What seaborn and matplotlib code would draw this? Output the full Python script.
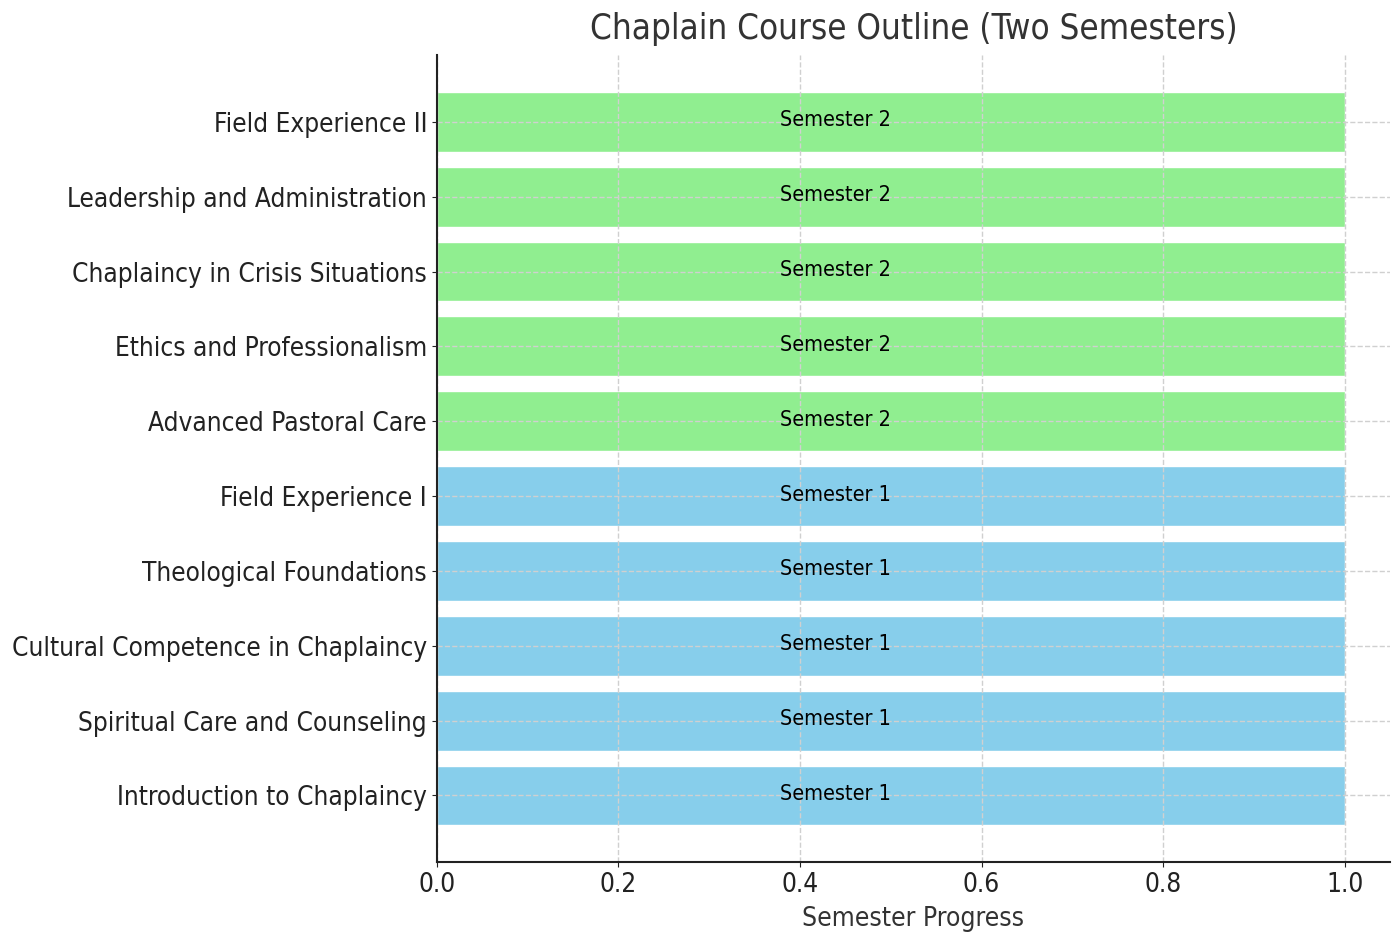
import matplotlib
matplotlib.use("Agg")
import matplotlib.pyplot as plt
import seaborn as sns
import pandas as pd

courses = [
    "Introduction to Chaplaincy",
    "Spiritual Care and Counseling",
    "Cultural Competence in Chaplaincy",
    "Theological Foundations",
    "Field Experience I",
    "Advanced Pastoral Care",
    "Ethics and Professionalism",
    "Chaplaincy in Crisis Situations",
    "Leadership and Administration",
    "Field Experience II",
]
semesters = ["Semester 1"] * 5 + ["Semester 2"] * 5
progress = [1.0] * 10

sns.set_style("ticks")
plt.rcParams["font.family"] = ["DejaVu Sans"]
plt.rcParams["font.stretch"] = "condensed"

df = pd.DataFrame({"Course": courses, "Semester": semesters, "Progress": progress})

fig, ax = plt.subplots(figsize=(14, 9.36), dpi=100)
fig.subplots_adjust(left=0.312, right=0.993, top=0.941, bottom=0.079)

sns.barplot(data=df, y="Course", x="Progress", hue="Semester",
            palette={"Semester 1": "skyblue", "Semester 2": "lightgreen"},
            orient="h", dodge=False, width=0.8, legend=False, ax=ax,
            saturation=1)

for i, row in df.iterrows():
    ax.text(row["Progress"] * 0.5, i + 0.02, row["Semester"], ha="right", va="center",
            fontsize=15.5, color="black")

ax.set_ylim(-0.89, 9.89)
ax.set_xlim(0, 1.05)
ax.set_xlabel("Semester Progress", fontsize=19, color="#333333", labelpad=6)
ax.set_ylabel("")
ax.set_title("Chaplain Course Outline (Two Semesters)", fontsize=25, color="#333333", pad=12)
ax.tick_params(axis="both", labelsize=18.8, colors="#222222")
ax.set_axisbelow(False)
ax.grid(True, linestyle="--", color="#d0d0d0", linewidth=1)
sns.despine(ax=ax)
for s in ["left", "bottom"]:
    ax.spines[s].set_linewidth(1.5)
    ax.spines[s].set_color("#222222")
    ax.spines[s].set_zorder(5)

fig.savefig("out.png", dpi=100)
